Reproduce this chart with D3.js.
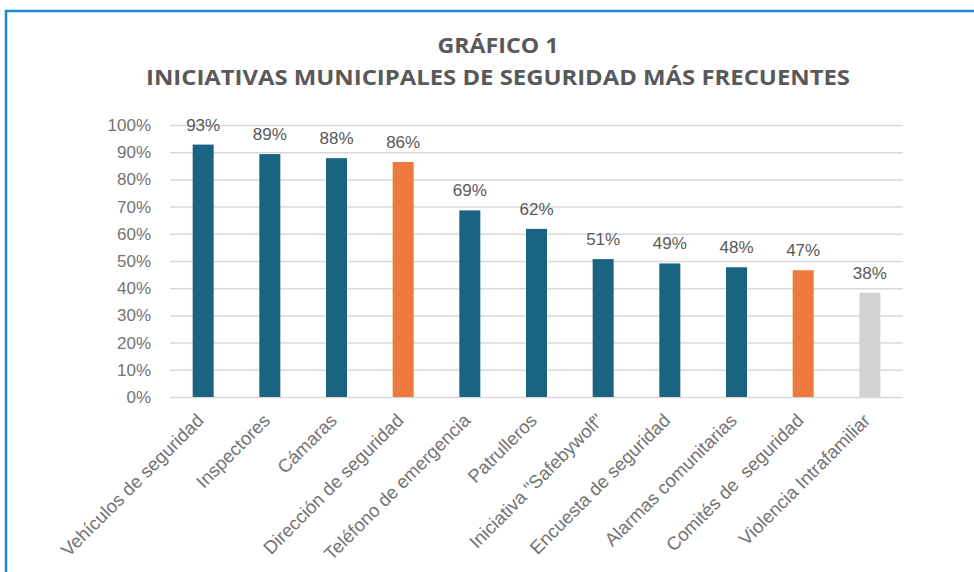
<!DOCTYPE html>
<html>
<head>
<meta charset="utf-8">
<script src="https://cdn.jsdelivr.net/npm/d3@7"></script>
<style>
  body { margin: 0; background: #fff; }
  svg { display: block; }
</style>
</head>
<body>
<svg id="chart" width="974" height="572"></svg>
<script>
const categories = ["Vehículos de seguridad", "Inspectores", "Cámaras", "Dirección de seguridad",
  "Teléfono de emergencia", "Patrulleros", "Iniciativa \"Safebywolf\"", "Encuesta de seguridad",
  "Alarmas comunitarias", "Comités de  seguridad", "Violencia Intrafamiliar"];
const values = [0.928, 0.893, 0.878, 0.864, 0.686, 0.618, 0.507, 0.491, 0.477, 0.466, 0.383];
const groups = ["base", "base", "base", "highlight", "base", "base", "base", "base", "base", "highlight", "other"];
const yTicks = [0, 0.1, 0.2, 0.3, 0.4, 0.5, 0.6, 0.7, 0.8, 0.9, 1];
const titleLines = ["GRÁFICO 1", "INICIATIVAS MUNICIPALES DE SEGURIDAD MÁS FRECUENTES"];

const svg = d3.select('#chart'),
  width = +svg.attr('width'),
  height = +svg.attr('height');

const margin = {top: 125, right: 71, bottom: 175, left: 170};

const color = d3.scaleOrdinal()
  .domain(["base", "highlight", "other"])
  .range(["#1b6383", "#ed7a3d", "#d1d2d4"]);

// frame
svg.append('path')
  .attr('d', `M6,572 V11 H974`)
  .attr('fill', 'none')
  .attr('stroke', '#1b8cd6')
  .attr('stroke-width', 2.5);

// title
svg.selectAll('.title')
  .data(titleLines)
  .enter()
  .append('text')
  .attr('class', 'title')
  .attr('x', 498)
  .attr('y', (d, i) => 53 + i * 32)
  .attr('text-anchor', 'middle')
  .attr('font-family', '"Open Sans", sans-serif')
  .attr('font-weight', 'bold')
  .attr('font-size', '22px')
  .attr('fill', '#595959')
  .attr('textLength', (d, i) => i === 0 ? 121 : 704)
  .attr('lengthAdjust', 'spacingAndGlyphs')
  .text(d => d);

const x = d3.scaleBand()
  .domain(categories)
  .range([margin.left, width - margin.right])
  .paddingInner(0.685)
  .paddingOuter(0.34);

const y = d3.scaleLinear()
  .domain([0, 1])
  .range([height - margin.bottom, margin.top]);

// grid + y labels
const yAxis = svg.append('g')
  .attr('transform', `translate(${margin.left},0)`)
  .call(d3.axisLeft(y)
    .tickValues(yTicks)
    .tickSize(-(width - margin.left - margin.right))
    .tickPadding(19)
    .tickFormat(d3.format('.0%')));

yAxis.select('.domain').remove();
yAxis.selectAll('.tick line')
  .attr('stroke', '#d9d9d9')
  .attr('stroke-width', 1.5);
yAxis.selectAll('.tick text')
  .attr('font-family', '"Liberation Sans", Arial, sans-serif')
  .attr('font-size', '17px')
  .attr('fill', '#737373');

// bars
svg.append('g')
  .selectAll('rect')
  .data(values)
  .enter()
  .append('rect')
  .attr('x', (d, i) => x(categories[i]))
  .attr('y', d => y(d))
  .attr('width', x.bandwidth())
  .attr('height', d => y(0) - y(d))
  .attr('fill', (d, i) => color(groups[i]));

// value labels
svg.append('g')
  .selectAll('text')
  .data(values)
  .enter()
  .append('text')
  .attr('x', (d, i) => x(categories[i]) + x.bandwidth() / 2)
  .attr('y', d => y(d) - 14)
  .attr('text-anchor', 'middle')
  .attr('font-family', '"Liberation Sans", Arial, sans-serif')
  .attr('font-size', '17px')
  .attr('fill', '#595959')
  .text(d => d3.format('.0%')(d));

// category labels
svg.append('g')
  .selectAll('text')
  .data(categories)
  .enter()
  .append('text')
  .attr('transform', d => `translate(${x(d) + x.bandwidth() / 2 - 3},${height - margin.bottom + 20}) rotate(-45)`)
  .attr('text-anchor', 'end')
  .attr('dy', '0.35em')
  .attr('font-family', '"Liberation Sans", Arial, sans-serif')
  .attr('font-size', '18.5px')
  .attr('fill', '#737373')
  .style('white-space', 'pre')
  .text(d => d);
</script>
</body>
</html>
